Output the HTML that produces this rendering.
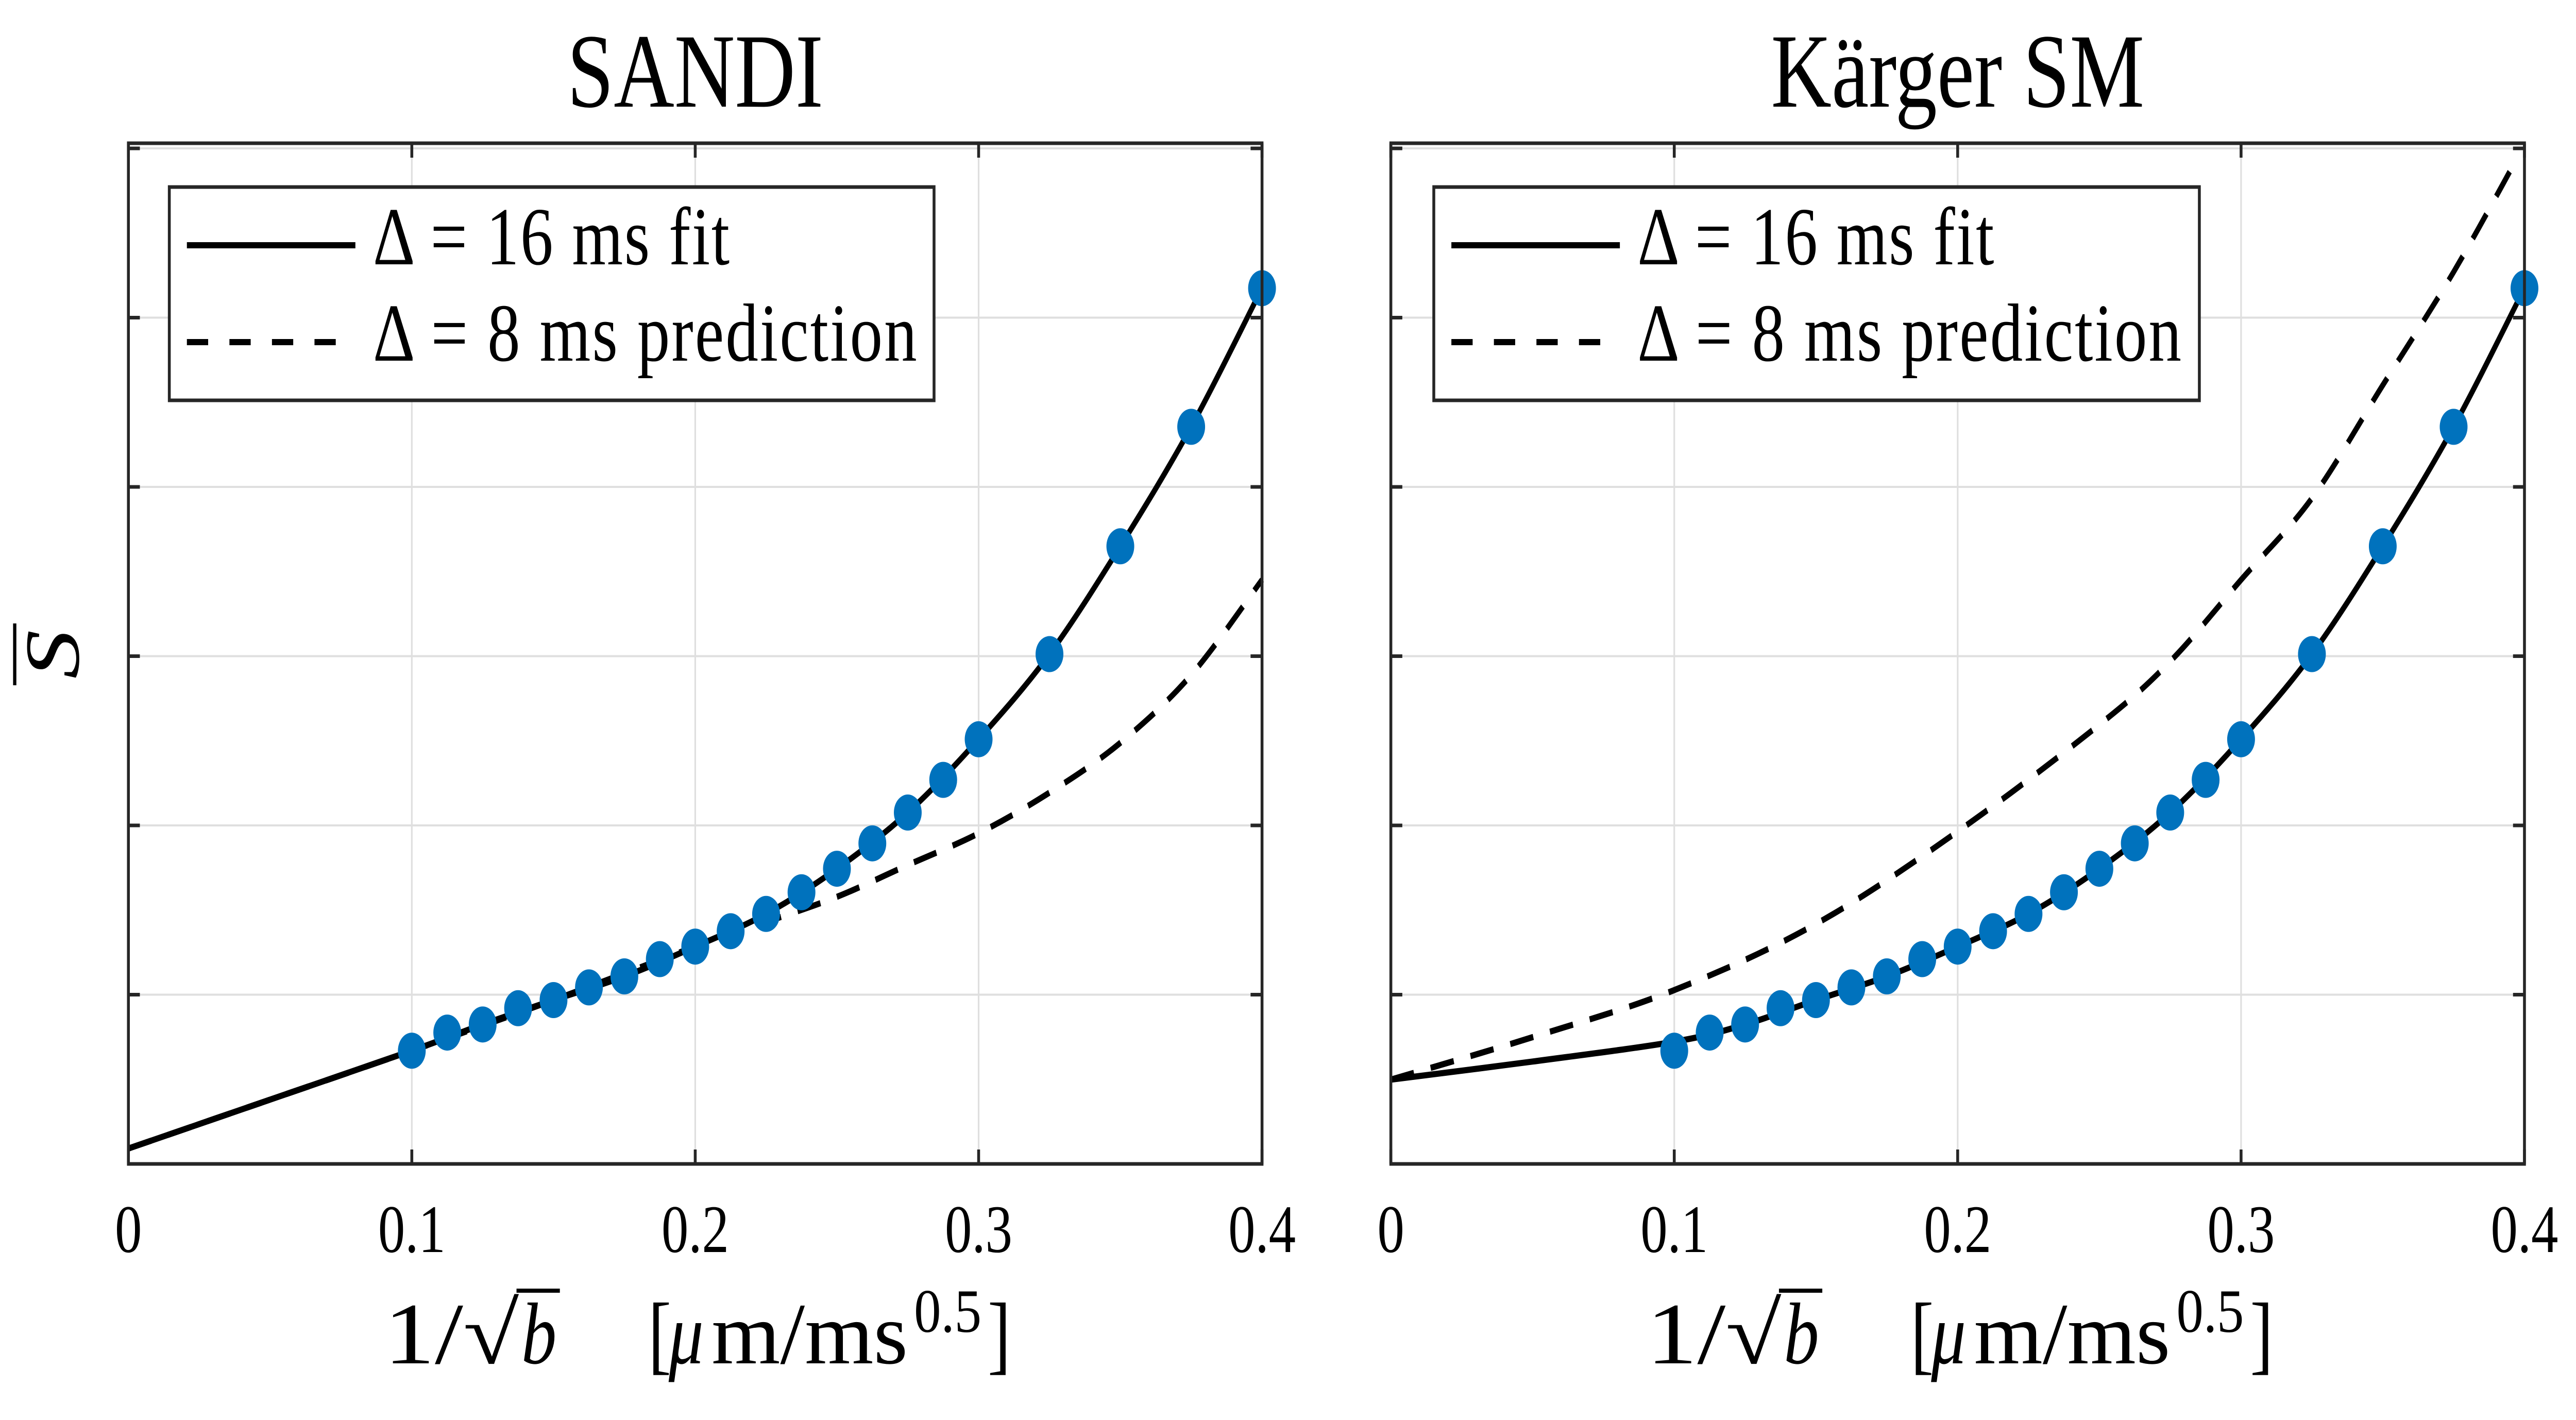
<!DOCTYPE html>
<html><head><meta charset="utf-8">
<style>
html,body{margin:0;padding:0;background:#fff;overflow:hidden;width:100%;height:100%;}
svg{display:block;width:100vw;height:100vh;}
text{font-family:"Liberation Serif","DejaVu Serif",serif;fill:#000;}
</style></head>
<body>
<svg id="fig" xmlns="http://www.w3.org/2000/svg" viewBox="0 0 6299 2756" preserveAspectRatio="none"></svg>
<script>
// ---- data ----
const xTicks = [0, 0.1, 0.2, 0.3, 0.4];
const xTickLabels = ["0", "0.1", "0.2", "0.3", "0.4"];
const yTicks = [1, 2, 3, 4, 5, 6];
const pointX = [0.1,0.1125,0.125,0.1375,0.15,0.1625,0.175,0.1875,0.2,0.2125,0.225,0.2375,0.25,0.2625,0.275,0.2875,0.3,0.325,0.35,0.375,0.4];
const pointY = [0.669,0.776,0.824,0.920,0.968,1.043,1.108,1.210,1.284,1.375,1.477,1.605,1.744,1.894,2.076,2.269,2.509,3.012,3.649,4.355,5.174];
const sandiFitX = [0,0.05,0.1,0.125,0.15,0.175,0.2,0.225,0.25,0.275,0.3,0.325,0.35,0.375,0.4];
const sandiFitY = [0.091,0.38,0.669,0.824,0.968,1.108,1.284,1.477,1.744,2.076,2.509,3.012,3.649,4.355,5.174];
const sandiPredX = [0,0.05,0.1,0.15,0.2,0.225,0.25,0.275,0.3,0.325,0.35,0.375,0.4];
const sandiPredY = [0.091,0.38,0.669,0.968,1.284,1.429,1.578,1.766,1.953,2.194,2.488,2.889,3.451];
const kargerFitX = [0,0.05,0.1,0.125,0.15,0.175,0.2,0.225,0.25,0.275,0.3,0.325,0.35,0.375,0.4];
const kargerFitY = [0.498,0.605,0.722,0.824,0.968,1.108,1.284,1.477,1.744,2.076,2.509,3.012,3.649,4.355,5.174];
const kargerPredX = [0,0.05,0.1,0.15,0.2,0.25,0.275,0.3,0.325,0.35,0.375,0.398];
const kargerPredY = [0.498,0.749,1.027,1.418,1.964,2.595,2.969,3.451,3.933,4.601,5.270,5.96];

const NS = "http://www.w3.org/2000/svg";
const svg = document.getElementById('fig');
function mk(tag, attrs, parent){
  const e = document.createElementNS(NS, tag);
  for (const k in attrs) e.setAttribute(k, attrs[k]);
  (parent || svg).appendChild(e);
  return e;
}
function smoothPath(pts){
  let d = "M" + pts[0][0].toFixed(1) + "," + pts[0][1].toFixed(1);
  for (let i = 0; i < pts.length - 1; i++){
    const p0 = pts[Math.max(0,i-1)], p1 = pts[i], p2 = pts[i+1], p3 = pts[Math.min(pts.length-1,i+2)];
    const c1x = p1[0] + (p2[0]-p0[0])/6, c1y = p1[1] + (p2[1]-p0[1])/6;
    const c2x = p2[0] - (p3[0]-p1[0])/6, c2y = p2[1] - (p3[1]-p1[1])/6;
    d += " C" + c1x.toFixed(1)+","+c1y.toFixed(1)+" "+c2x.toFixed(1)+","+c2y.toFixed(1)+" "+p2[0].toFixed(1)+","+p2[1].toFixed(1);
  }
  return d;
}

const TOP = 278, BOT = 2259, YMAX = (2259-278)/328.5;
const panels = [
  {name:"sandi", title:"SANDI", left:314, right:3086, fitX:sandiFitX, fitY:sandiFitY, predX:sandiPredX, predY:sandiPredY, legL:414, legR:2284},
  {name:"karger", title:"Kärger SM", left:3401, right:6173, fitX:kargerFitX, fitY:kargerFitY, predX:kargerPredX, predY:kargerPredY, legL:3506, legR:5378}
];

panels.forEach(function(p){
  const g = mk('g', {});
  
  
  const xs = v => p.left + (v/0.4)*(p.right - p.left);
  const ys = v => BOT - (v/YMAX)*(BOT - TOP);

  xTicks.forEach(function(t){
    const l = mk('line', {x1:xs(t), x2:xs(t), y1:TOP, y2:BOT, stroke:'#dfdfdf', 'stroke-width':4}, g);
    
    
  });
  yTicks.forEach(function(t){
    const l = mk('line', {x1:p.left, x2:p.right, y1:ys(t), y2:ys(t), stroke:'#dfdfdf', 'stroke-width':4}, g);
    
    
  });
  xTicks.forEach(function(t, i){
    mk('line', {x1:xs(t), x2:xs(t), y1:BOT, y2:BOT-28, stroke:'#262626', 'stroke-width':7}, g);
    mk('line', {x1:xs(t), x2:xs(t), y1:TOP, y2:TOP+28, stroke:'#262626', 'stroke-width':7}, g);
    const tl = mk('text', {x:xs(t), y:2430, 'font-size':132, 'text-anchor':'middle', fill:'#262626'}, g);
    tl.textContent = xTickLabels[i];
    
    
  });
  yTicks.forEach(function(t){
    mk('line', {x1:p.left, x2:p.left+28, y1:ys(t), y2:ys(t), stroke:'#262626', 'stroke-width':7}, g);
    mk('line', {x1:p.right, x2:p.right-28, y1:ys(t), y2:ys(t), stroke:'#262626', 'stroke-width':7}, g);
  });

  const pred = mk('path', {d:smoothPath(p.predX.map((x,i)=>[xs(x), ys(p.predY[i])])), fill:'none', stroke:'#000', 'stroke-width':12, 'stroke-dasharray':'58 42'}, g);
  
  
  const fit = mk('path', {d:smoothPath(p.fitX.map((x,i)=>[xs(x), ys(p.fitY[i])])), fill:'none', stroke:'#000', 'stroke-width':12}, g);
  
  
  pointX.forEach(function(x, i){
    const c = mk('ellipse', {cx:xs(x), cy:ys(pointY[i]), rx:34, ry:35, fill:'#0072BD'}, g);
    
    
  });

  const box = mk('rect', {x:p.left, y:TOP, width:p.right-p.left, height:BOT-TOP, fill:'none', stroke:'#262626', 'stroke-width':7}, g);
  
  

  const ti = mk('text', {x:(p.left+p.right)/2, y:207, 'font-size':205, 'text-anchor':'middle'}, g);
  ti.textContent = p.title;
  
  

  const lg = mk('g', {}, g);
  
  
  mk('rect', {x:p.legL, y:363, width:p.legR-p.legL, height:414, fill:'#fff', stroke:'#262626', 'stroke-width':7}, lg);
  mk('line', {x1:p.legL+43, x2:p.legL+455, y1:476, y2:476, stroke:'#000', 'stroke-width':12}, lg);
  mk('line', {x1:p.legL+43, x2:p.legL+455, y1:664, y2:664, stroke:'#000', 'stroke-width':12, 'stroke-dasharray':'52 52'}, lg);
  const t1 = mk('text', {x:p.legL+498, y:513, 'font-size':160, textLength:872, lengthAdjust:'spacing'}, lg);
  t1.textContent = "Δ = 16 ms fit";
  
  
  const t2 = mk('text', {x:p.legL+498, y:700, 'font-size':160, textLength:1330, lengthAdjust:'spacing'}, lg);
  t2.textContent = "Δ = 8 ms prediction";
  
  

  const off = p.left - 314;
  const xl = mk('g', {}, g);
  
  
  const a = mk('text', {x:939+off, y:2646, 'font-size':170, textLength:330, lengthAdjust:'spacingAndGlyphs'}, xl); a.textContent = "1/√";
  const bx = 939 + off + 330;
  const b = mk('text', {x:bx+6, y:2646, 'font-size':170, 'font-style':'italic', textLength:86, lengthAdjust:'spacingAndGlyphs'}, xl); b.textContent = "b";
  mk('line', {x1:bx-6, x2:bx+100, y1:2505, y2:2505, stroke:'#000', 'stroke-width':8}, xl);
  const c = mk('text', {x:1585+off, y:2646, 'font-size':170}, xl); c.textContent = "[";
  const d = mk('text', {x:1635+off, y:2646, 'font-size':170, 'font-style':'italic'}, xl); d.textContent = "μ";
  const e = mk('text', {x:1740+off, y:2646, 'font-size':170, textLength:480, lengthAdjust:'spacingAndGlyphs'}, xl); e.textContent = "m/ms";
  const f = mk('text', {x:2235+off, y:2585, 'font-size':120, textLength:165, lengthAdjust:'spacingAndGlyphs'}, xl); f.textContent = "0.5";
  const h = mk('text', {x:2415+off, y:2646, 'font-size':170}, xl); h.textContent = "]";
});

const yl = mk('g', {});


const yt = mk('text', {x:0, y:0, 'font-size':190, 'font-style':'italic', 'text-anchor':'middle', transform:'translate(192,1270) rotate(-90)'}, yl);
yt.textContent = "S";
mk('line', {x1:36, x2:36, y1:1210, y2:1330, stroke:'#000', 'stroke-width':8}, yl);
</script>
</body></html>
